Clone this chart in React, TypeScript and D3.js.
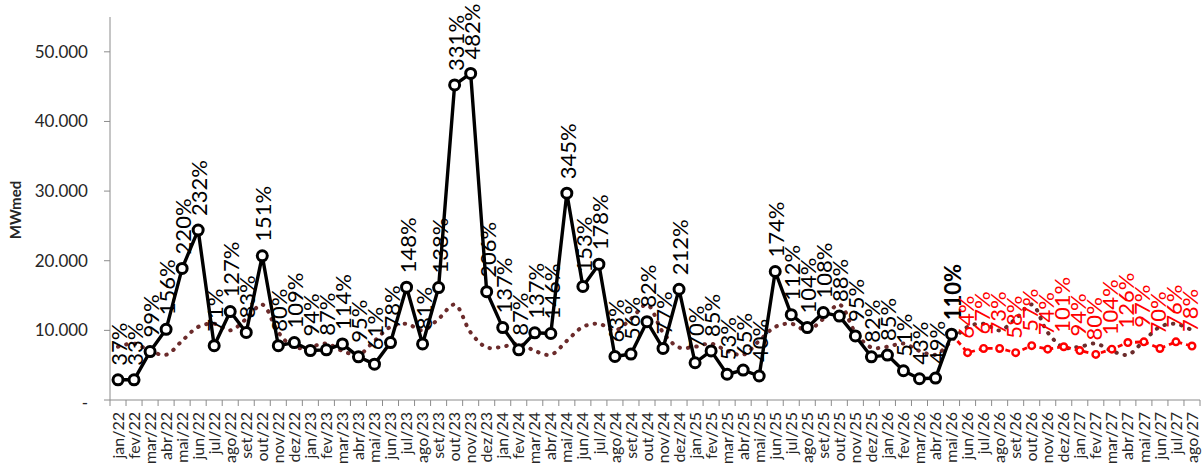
import React from "react";
import * as d3 from "d3";

const categories = [
  "jan/22","fev/22","mar/22","abr/22","mai/22","jun/22","jul/22","ago/22","set/22","out/22","nov/22","dez/22",
  "jan/23","fev/23","mar/23","abr/23","mai/23","jun/23","jul/23","ago/23","set/23","out/23","nov/23","dez/23",
  "jan/24","fev/24","mar/24","abr/24","mai/24","jun/24","jul/24","ago/24","set/24","out/24","nov/24","dez/24",
  "jan/25","fev/25","mar/25","abr/25","mai/25","jun/25","jul/25","ago/25","set/25","out/25","nov/25","dez/25",
  "jan/26","fev/26","mar/26","abr/26","mai/26","jun/26","jul/26","ago/26","set/26","out/26","nov/26","dez/26",
  "jan/27","fev/27","mar/27","abr/27","mai/27","jun/27","jul/27","ago/27",
];

// Verified (black) series: jan/22 .. mai/26
const verifiedValues = [
  2900, 2900, 6950, 10150, 18900, 24400, 7800, 12700, 9700, 20700, 7800, 8250,
  7100, 7200, 8050, 6200, 5150, 8250, 16200, 8050, 16150, 45250, 46900, 15550,
  10400, 7200, 9650, 9550, 29700, 16300, 19500, 6250, 6600, 11250, 7400, 15900,
  5350, 7050, 3700, 4300, 3450, 18450, 12250, 10400, 12550, 12050, 9200, 6200,
  6450, 4200, 3050, 3150, 9450,
];
const verifiedPct = [
  "37%","33%","99%","156%","220%","232%","71%","127%","83%","151%","80%","109%",
  "94%","87%","114%","95%","61%","78%","148%","81%","138%","331%","482%","206%",
  "137%","87%","137%","146%","345%","153%","178%","63%","56%","82%","77%","212%",
  "70%","85%","53%","65%","40%","174%","112%","104%","108%","88%","95%","82%",
  "85%","51%","43%","49%","110%",
];

// Forecast (red) series: jun/26 .. ago/27
const forecastCategories = [
  "jun/26","jul/26","ago/26","set/26","out/26","nov/26","dez/26",
  "jan/27","fev/27","mar/27","abr/27","mai/27","jun/27","jul/27","ago/27",
];
const forecastValues = [6800, 7400, 7400, 6800, 7800, 7300, 7650, 7100, 6550, 7300, 8250, 8350, 7400, 8350, 7750];
const forecastPct = ["64%","67%","73%","58%","57%","74%","101%","94%","80%","104%","126%","97%","70%","76%","78%"];

// Long-term average (MLT), dotted line
const mltValues = [
  7650, 8100, 7050, 6500, 8500, 10500, 10950, 10000, 11650, 13700, 9700, 7550,
  7650, 8100, 7050, 6500, 8500, 10500, 10950, 10000, 11650, 13700, 9700, 7550,
  7650, 8100, 7050, 6500, 8500, 10500, 10950, 10000, 11650, 13700, 9700, 7550,
  7650, 8100, 7050, 6500, 8500, 10500, 10950, 10000, 11650, 13700, 9700, 7550,
  7650, 8100, 7050, 6500, 8500, 10500, 10950, 10000, 11650, 13700, 9700, 7550,
  7650, 8100, 7050, 6500, 8500, 10500, 10950, 10000,
];

const yTicks = [0, 10000, 20000, 30000, 40000, 50000];

const W = 1203;
const H = 468;
const FONT = "Lato, 'Noto Sans', sans-serif";

export default function App() {
  const x = d3.scaleBand<string>().domain(categories).range([110, 1200]).padding(0);
  const bw = x.bandwidth();
  const cx = (c: string) => (x(c) as number) + bw / 2;
  const y = d3.scaleLinear().domain([0, 55000]).range([400, 17]);

  const fmt = (v: number) => (v === 0 ? "-" : d3.format(",")(v).replace(/,/g, "."));

  const verified = verifiedValues.map((v, i) => ({ c: categories[i], v, p: verifiedPct[i] }));
  const forecast = forecastValues.map((v, i) => ({ c: forecastCategories[i], v, p: forecastPct[i] }));
  const forecastLinePts = [verified[verified.length - 1], ...forecast];
  const mlt = mltValues.map((v, i) => ({ c: categories[i], v }));

  const line = d3.line<{ c: string; v: number }>().x((d) => cx(d.c)).y((d) => y(d.v));
  const smooth = d3
    .line<{ c: string; v: number }>()
    .x((d) => cx(d.c))
    .y((d) => y(d.v))
    .curve(d3.curveCatmullRom.alpha(0.5));

  const axisColor = "#8c8c8c";
  const textColor = "#262626";

  return (
    <svg
      width={W}
      height={H}
      style={{ position: "absolute", left: 0, top: 0, display: "block", background: "#fff" }}
      fontFamily={FONT}
    >
      {/* Y axis */}
      <line x1={110} x2={110} y1={y(55000)} y2={400} stroke={axisColor} strokeWidth={1} />
      {yTicks.map((t) => (
        <g key={t}>
          <line x1={104} x2={110} y1={y(t)} y2={y(t)} stroke={axisColor} strokeWidth={1} />
          <text
            x={88}
            y={t === 0 ? y(t) + 3 : y(t)}
            dy="0.35em"
            textAnchor="end"
            fontSize={17}
            fill={textColor}
          >
            {fmt(t)}
          </text>
        </g>
      ))}
      <text
        transform={`translate(16,210) rotate(-90)`}
        textAnchor="middle"
        dy="0.35em"
        fontSize={15}
        fontWeight="bold"
        fill={textColor}
      >
        MWmed
      </text>

      {/* X axis */}
      <line x1={110} x2={1200} y1={400} y2={400} stroke={axisColor} strokeWidth={1} />
      {categories.map((c) => (
        <line key={"t" + c} x1={x(c) as number} x2={x(c) as number} y1={400} y2={406} stroke={axisColor} strokeWidth={1} />
      ))}
      <line x1={1200} x2={1200} y1={400} y2={406} stroke={axisColor} strokeWidth={1} />
      {categories.map((c) => (
        <text
          key={"l" + c}
          transform={`translate(${cx(c)},412) rotate(-90)`}
          textAnchor="end"
          dy="0.35em"
          fontSize={16}
          fill={textColor}
        >
          {c}
        </text>
      ))}

      {/* MLT dotted line */}
      <path
        d={smooth(mlt) || ""}
        fill="none"
        stroke="#6b2b2b"
        strokeWidth={4}
        strokeLinecap="round"
        strokeDasharray="0.5,8"
      />

      {/* Forecast red dashed */}
      <path d={line(forecastLinePts) || ""} fill="none" stroke="#ff0000" strokeWidth={2.8} strokeDasharray="5,4" />
      {forecast.map((d) => (
        <circle key={"f" + d.c} cx={cx(d.c)} cy={y(d.v)} r={3.3} fill="#fff" stroke="#ff0000" strokeWidth={2.4} />
      ))}

      {/* Verified black line */}
      <path d={line(verified) || ""} fill="none" stroke="#000" strokeWidth={3.4} strokeLinejoin="round" />
      {verified.map((d) => (
        <circle key={"v" + d.c} cx={cx(d.c)} cy={y(d.v)} r={5} fill="#fff" stroke="#000" strokeWidth={3} />
      ))}

      {/* Labels */}
      {verified.map((d, i) => (
        <text
          key={"vl" + d.c}
          transform={`translate(${cx(d.c) + 9},${y(d.v) - 14}) rotate(-90)`}
          textAnchor="start"
          fontSize={22}
          fontWeight={i === verified.length - 1 ? "bold" : "normal"}
          fill="#000"
        >
          {d.p}
        </text>
      ))}
      {forecast.map((d) => (
        <text
          key={"fl" + d.c}
          transform={`translate(${cx(d.c) + 6},${y(d.v) - 14}) rotate(-90)`}
          textAnchor="start"
          fontSize={22}
          fill="#ff0000"
        >
          {d.p}
        </text>
      ))}
    </svg>
  );
}
